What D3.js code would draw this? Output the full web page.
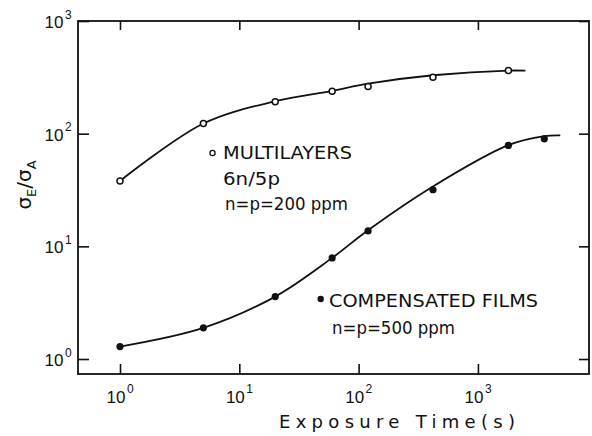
<!DOCTYPE html>
<html>
<head>
<meta charset="utf-8">
<script src="https://cdnjs.cloudflare.com/ajax/libs/d3/7.8.5/d3.min.js"></script>
<style>
	body { margin: 0; background: #fff; }
	svg { display: block; }
	.note { font-family: "DejaVu Sans", sans-serif; font-size: 17px; fill: #111; }
	.num { font-family: "Liberation Sans", Arial, sans-serif; fill: #111; }
</style>
</head>
<body>
<svg width="592" height="436" id="chart"></svg>
<script>
// measured points (exposure time in s, ratio sigma_E / sigma_A)
let multiTime = [1, 5, 20, 60, 120, 420, 1800];
let multiRatio = [38, 123, 192, 238, 262, 317, 363];
let compTime = [1, 5, 20, 60, 120, 420, 1800, 3600];
let compRatio = [1.29, 1.89, 3.58, 7.9, 13.7, 31.8, 78.7, 90];

// smooth curves drawn through the data
let multiFitTime = [1, 5, 20, 60, 120, 420, 1800, 2500];
let multiFitRatio = [38, 123, 194, 240, 278, 330, 363, 362];
let compFitTime = [1, 5, 20, 60, 120, 420, 1800, 3600, 4900];
let compFitRatio = [1.29, 1.89, 3.58, 7.9, 13.9, 34, 79, 95, 96.5];

let decades = [1, 10, 100, 1000];

var svg = d3.select("svg"),
	frame = {left: 78, right: 589, top: 21, bottom: 374};

//log scales, the box runs a bit past the outer decades
let x = d3.scaleLog().domain([Math.pow(10, -0.352), Math.pow(10, 3.931)]).range([frame.left, frame.right]),
	y = d3.scaleLog().domain([Math.pow(10, -0.133), 1000]).range([frame.bottom, frame.top]);

let line = d3.line()
	.curve(d3.curveCatmullRom.alpha(0.5))
	.x(function(d) { return x(d[0]); })
	.y(function(d) { return y(d[1]); });

//ticks on all four sides, pointing inward
function noLabels(axis) { return axis.tickValues(decades).tickSizeOuter(0).tickFormat(""); }
svg.append("g").attr("transform", "translate(0," + frame.bottom + ")").call(noLabels(d3.axisBottom(x)).tickSizeInner(-10));
svg.append("g").attr("transform", "translate(0," + frame.top + ")").call(noLabels(d3.axisTop(x)).tickSizeInner(-9));
svg.append("g").attr("transform", "translate(" + frame.left + ",0)").call(noLabels(d3.axisLeft(y)).tickSizeInner(-11));
svg.append("g").attr("transform", "translate(" + frame.right + ",0)").call(noLabels(d3.axisRight(y)).tickSizeInner(-10));
svg.selectAll(".domain").remove();
svg.selectAll(".tick line").attr("stroke", "#111").attr("stroke-width", 1.6);

svg.append("rect")
	.attr("x", frame.left).attr("y", frame.top)
	.attr("width", frame.right - frame.left).attr("height", frame.bottom - frame.top)
	.attr("fill", "none").attr("stroke", "#111").attr("stroke-width", 1.8);

//power-of-ten tick labels
decades.forEach(function(d, i) {
	svg.append("text").attr("class", "num")
		.attr("x", 63.5).attr("y", y(d) + 7)
		.attr("text-anchor", "end").style("font-size", "17px")
		.text("10");
	svg.append("text").attr("class", "num")
		.attr("x", 65).attr("y", y(d) - 2.5)
		.style("font-size", "12px").text(i);

	svg.append("text").attr("class", "num")
		.attr("x", x(d) + 5.5).attr("y", 403)
		.attr("text-anchor", "end").style("font-size", "17px")
		.text("10");
	svg.append("text").attr("class", "num")
		.attr("x", x(d) + 7).attr("y", 393)
		.style("font-size", "12px").text(i);
});

//fitted curves
svg.append("path")
	.datum(d3.zip(multiFitTime, multiFitRatio))
	.attr("fill", "none").attr("stroke", "#111").attr("stroke-width", 1.8)
	.attr("d", line);
svg.append("path")
	.datum(d3.zip(compFitTime, compFitRatio))
	.attr("fill", "none").attr("stroke", "#111").attr("stroke-width", 1.8)
	.attr("d", line);

//open circles: multilayers
svg.selectAll(".multi")
	.data(d3.zip(multiTime, multiRatio))
	.enter().append("circle")
	.attr("class", "multi")
	.attr("cx", function(d) { return x(d[0]); })
	.attr("cy", function(d) { return y(d[1]); })
	.attr("r", 3)
	.attr("fill", "#fff").attr("stroke", "#111").attr("stroke-width", 1.5);

//filled circles: compensated films
svg.selectAll(".comp")
	.data(d3.zip(compTime, compRatio))
	.enter().append("circle")
	.attr("class", "comp")
	.attr("cx", function(d) { return x(d[0]); })
	.attr("cy", function(d) { return y(d[1]); })
	.attr("r", 3.6)
	.attr("fill", "#111");

//annotations
svg.append("circle").attr("cx", 212.5).attr("cy", 153).attr("r", 2.6)
	.attr("fill", "#fff").attr("stroke", "#111").attr("stroke-width", 1.3);
svg.append("text").attr("class", "note").attr("x", 223).attr("y", 159)
	.attr("textLength", 129).attr("lengthAdjust", "spacingAndGlyphs").text("MULTILAYERS");
svg.append("text").attr("class", "note").attr("x", 223).attr("y", 185)
	.attr("textLength", 57).attr("lengthAdjust", "spacingAndGlyphs").text("6n/5p");
svg.append("text").attr("class", "note").attr("x", 225).attr("y", 210)
	.attr("textLength", 123).attr("lengthAdjust", "spacingAndGlyphs").text("n=p=200 ppm");

svg.append("circle").attr("cx", 320.7).attr("cy", 299).attr("r", 3.2).attr("fill", "#111");
svg.append("text").attr("class", "note").attr("x", 329).attr("y", 306.5)
	.attr("textLength", 209).attr("lengthAdjust", "spacingAndGlyphs").text("COMPENSATED FILMS");
svg.append("text").attr("class", "note").attr("x", 332).attr("y", 334)
	.attr("textLength", 123).attr("lengthAdjust", "spacingAndGlyphs").text("n=p=500 ppm");

//axis titles
svg.append("text").attr("class", "note").attr("x", 279).attr("y", 428)
	.style("font-size", "18px")
	.attr("textLength", 236).attr("lengthAdjust", "spacing")
	.text("Exposure Time(s)");

let ylab = svg.append("text").attr("class", "note")
	.attr("transform", "translate(31,185) rotate(-90)")
	.attr("text-anchor", "middle")
	.style("font-size", "20px");
ylab.append("tspan").text("σ");
ylab.append("tspan").attr("dy", 5).style("font-size", "13px").text("E");
ylab.append("tspan").attr("dy", -5).text("/σ");
ylab.append("tspan").attr("dy", 5).style("font-size", "13px").text("A");
</script>
</body>
</html>
